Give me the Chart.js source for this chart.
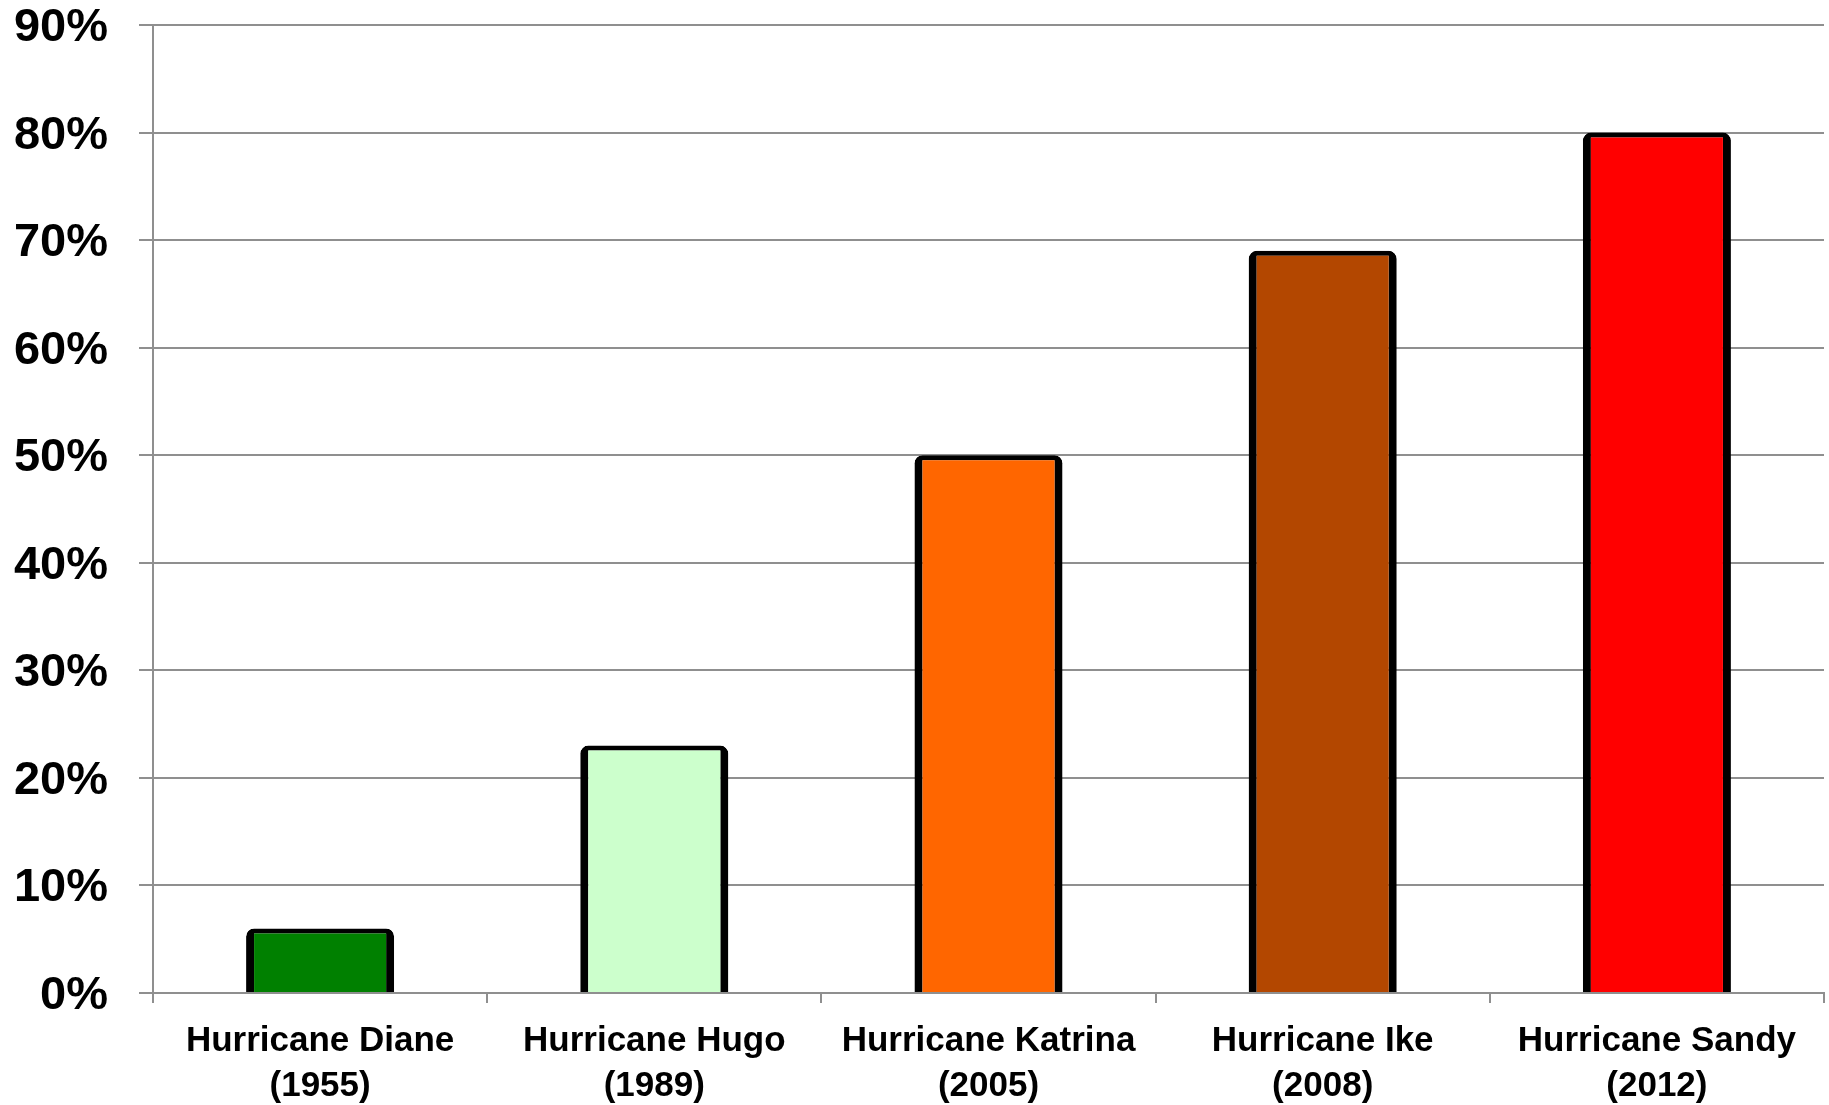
<!DOCTYPE html>
<html>
<head>
<meta charset="utf-8">
<script src="https://cdn.jsdelivr.net/npm/chart.js@4/dist/chart.umd.min.js"></script>
<style>
  html, body { margin: 0; padding: 0; background: #fff; }
  #chart { display: block; }
</style>
</head>
<body>
<canvas id="chart" width="1829" height="1105"></canvas>
<script>
// hurricane names + years (two-line labels)
const hurricanes = [
  ["Hurricane Diane", "(1955)"],
  ["Hurricane Hugo", "(1989)"],
  ["Hurricane Katrina", "(2005)"],
  ["Hurricane Ike", "(2008)"],
  ["Hurricane Sandy", "(2012)"],
];
const percentValues = [6, 23, 50, 69, 80];
const barColors = ["#008000", "#ccffcc", "#ff6600", "#b34700", "#ff0000"];
const yTicks = [0, 10, 20, 30, 40, 50, 60, 70, 80, 90];

const gridGray = "#8f8f8f";

new Chart(document.getElementById("chart"), {
  type: "bar",
  data: {
    labels: hurricanes,
    datasets: [
      {
        data: percentValues,
        backgroundColor: barColors,
        borderColor: "#000",
        borderWidth: { left: 8, right: 8, top: 5, bottom: 0 },
        borderRadius: 8,
        borderSkipped: "start",
        barPercentage: 0.443,
        categoryPercentage: 1,
      },
    ],
  },
  options: {
    responsive: false,
    animation: false,
    layout: { padding: { left: 0, right: 5, top: 25, bottom: 0 } },
    plugins: {
      legend: { display: false },
      tooltip: { enabled: false },
    },
    scales: {
      x: {
        grid: {
          drawOnChartArea: false,
          drawTicks: true,
          tickLength: 10,
          color: gridGray,
          lineWidth: 2,
        },
        border: { color: gridGray, width: 2 },
        ticks: {
          color: "#000",
          padding: 16,
          font: { family: "Liberation Sans", size: 35, weight: "bold", lineHeight: 1.29 },
          maxRotation: 0,
        },
        afterFit: (axis) => {
          axis.height = 112;
          axis.paddingLeft = 0;
          axis.paddingRight = 0;
        },
      },
      y: {
        min: 0,
        max: 90,
        afterBuildTicks: (axis) => {
          axis.ticks = yTicks.map((v) => ({ value: v }));
        },
        grid: {
          color: gridGray,
          lineWidth: 2,
          tickLength: 14,
        },
        border: { color: gridGray, width: 2 },
        ticks: {
          color: "#000",
          padding: 31,
          labelOffset: 3,
          font: { family: "Liberation Sans", size: 47, weight: "bold" },
          callback: (v) => v + "%",
        },
        afterFit: (axis) => {
          axis.width = 153;
          axis.paddingTop = 0;
          axis.paddingBottom = 0;
        },
      },
    },
  },
});
</script>
</body>
</html>
